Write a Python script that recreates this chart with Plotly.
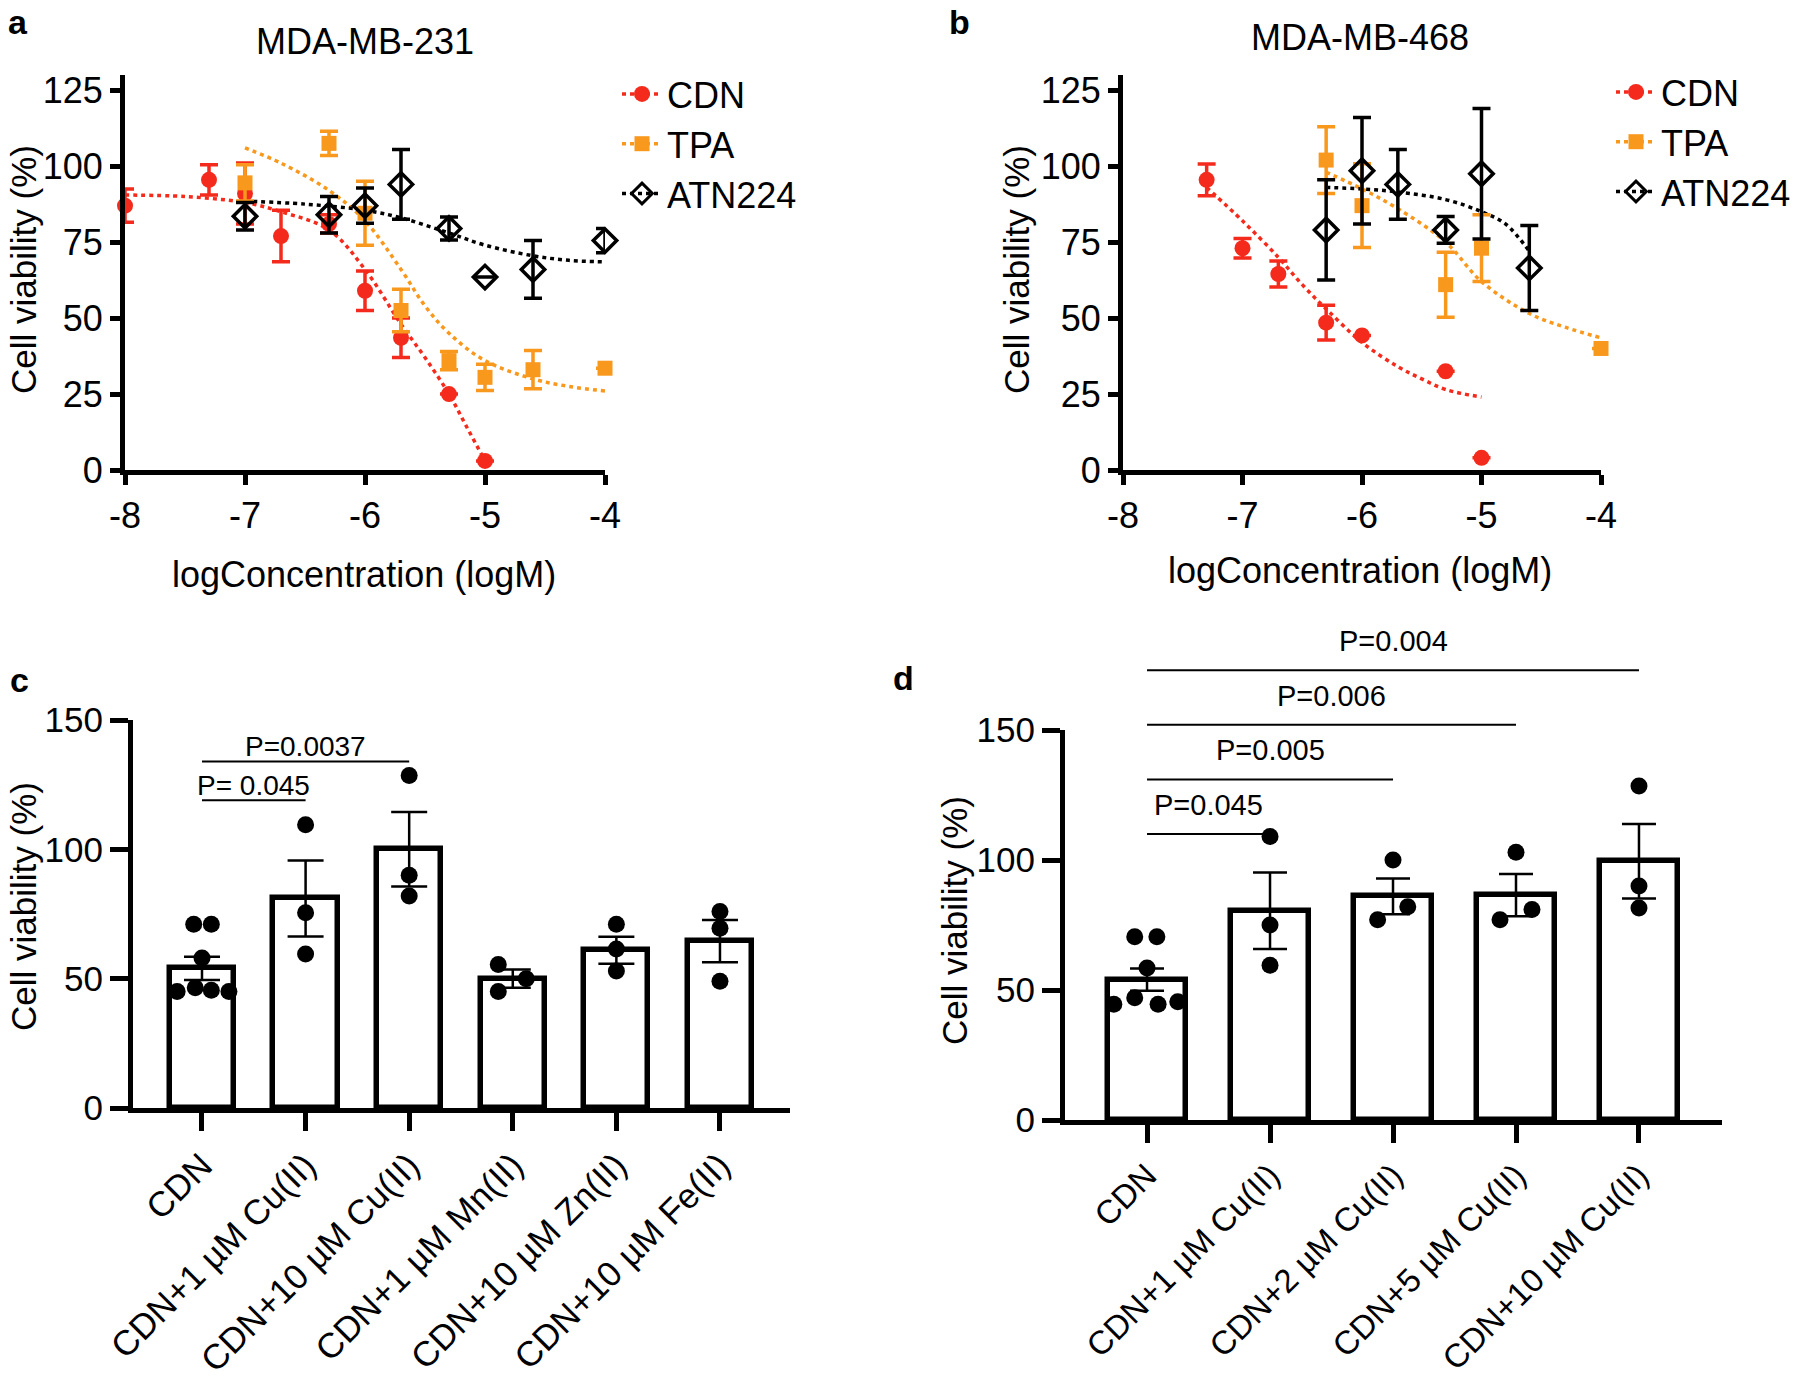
import plotly.graph_objects as go

FONT = "Liberation Sans, Arial, Helvetica, sans-serif"
RED = "#F42B1C"
ORANGE = "#F8981D"
BLACK = "#000000"

# ---------------- Panel a : MDA-MB-231 ----------------
a_cdn_x = [-8, -7.3, -7, -6.7, -6.3, -6, -5.7, -5.3, -5]
a_cdn_y = [87, 95.5, 91, 77, 81, 59, 43.5, 25, 3]
a_cdn_e = [5.5, 5, 10, 8.5, 3, 6.5, 6.5, 0, 0]
a_tpa_x = [-7, -6.3, -6, -5.7, -5.3, -5, -4.6, -4]
a_tpa_y = [94.5, 107.5, 84.5, 52.5, 36, 30.5, 33, 33.5]
a_tpa_e = [6, 4, 10.5, 7, 3, 4.3, 6.3, 0]
a_atn_x = [-7, -6.3, -6, -5.7, -5.3, -5, -4.6, -4]
a_atn_y = [83.5, 84, 87, 94, 79.5, 63.5, 66, 75.5]
a_atn_e = [4.5, 6, 5.8, 11.5, 3.8, 0, 9.5, 4]
# fitted curves
a_cdn_fit_x = [-8, -7.5, -7, -6.7, -6.3, -6, -5.7, -5.5, -5.3, -5.15, -5]
a_cdn_fit_y = [90.5, 90, 88, 85, 79, 66, 48, 37, 25, 14, 3]
a_tpa_fit_x = [-7, -6.7, -6.3, -6, -5.7, -5.5, -5.3, -5, -4.6, -4.3, -4]
a_tpa_fit_y = [106, 101, 92, 82, 66, 54, 45, 36, 30, 27.5, 26]
a_atn_fit_x = [-7, -6.5, -6, -5.7, -5.3, -5, -4.6, -4.3, -4]
a_atn_fit_y = [88.5, 87.5, 85.5, 83, 78, 74, 70.5, 69, 68.5]

# ---------------- Panel b : MDA-MB-468 ----------------
b_cdn_x = [-7.3, -7, -6.7, -6.3, -6, -5.3, -5]
b_cdn_y = [95.5, 73, 64.5, 48.5, 44.3, 32.5, 4]
b_cdn_e = [5.2, 3.2, 4.3, 5.7, 0, 0, 0]
b_tpa_x = [-6.3, -6, -5.3, -5, -4]
b_tpa_y = [102, 87, 61, 73, 40]
b_tpa_e = [11, 13.8, 10.7, 11, 0]
b_atn_x = [-6.3, -6, -5.7, -5.3, -5, -4.6]
b_atn_y = [79, 98.5, 94, 79, 97.5, 66.5]
b_atn_e = [16.5, 17.5, 11.5, 4.4, 21.5, 14]
b_cdn_fit_x = [-7.3, -7, -6.7, -6.5, -6.3, -6, -5.7, -5.5, -5.3, -5]
b_cdn_fit_y = [93, 82, 70, 61, 53, 42, 34, 30, 26.5, 24]
b_tpa_fit_x = [-6.3, -6, -5.7, -5.3, -5, -4.6, -4.3, -4]
b_tpa_fit_y = [98, 92.5, 86, 75, 62, 51.5, 47, 43.5]
b_atn_fit_x = [-6.3, -6, -5.7, -5.3, -5, -4.8, -4.6]
b_atn_fit_y = [93, 92.5, 91.5, 89, 85, 81, 72]

# ---------------- Panel c ----------------
c_labels = ["CDN", "CDN+1 µM Cu(II)", "CDN+10 µM Cu(II)", "CDN+1 µM Mn(II)",
            "CDN+10 µM Zn(II)", "CDN+10 µM Fe(II)"]
c_means = [54, 81, 100, 50, 61, 64.5]
c_sem = [4.5, 14.7, 14.4, 3.5, 5.2, 8.2]
c_points = [
    [71, 71, 58, 45, 46.5, 45.5, 45],
    [109.5, 75.5, 59.5],
    [128.5, 90, 82],
    [55.5, 45, 50],
    [71, 61.5, 53],
    [76, 69.5, 49],
]
c_jitter = [
    [-0.08, 0.09, 0, -0.24, -0.065, 0.09, 0.26],
    [0, 0, 0],
    [0, 0, 0],
    [-0.14, -0.14, 0.13],
    [0, 0, 0],
    [0, 0, 0],
]
c_sig_pairs = [(0, 1), (0, 2)]
c_sig_y = [119, 134]
c_sig_text = ["P= 0.045", "P=0.0037"]

# ---------------- Panel d ----------------
d_labels = ["CDN", "CDN+1 µM Cu(II)", "CDN+2 µM Cu(II)", "CDN+5 µM Cu(II)",
            "CDN+10 µM Cu(II)"]
d_means = [54, 80.5, 86, 86.5, 99.5]
d_sem = [4.3, 14.7, 6.9, 8.1, 14.3]
d_points = [
    [70.5, 70.5, 58.5, 44.5, 47, 44.5, 45.5],
    [109, 75, 59.5],
    [100, 77, 82],
    [103, 77, 81],
    [128.5, 90, 81.5],
]
d_jitter = [
    [-0.1, 0.08, 0, -0.27, -0.1, 0.09, 0.25],
    [0, 0, 0],
    [0, -0.125, 0.12],
    [0, -0.13, 0.13],
    [0, 0, 0],
]
d_sig_pairs = [(0, 1), (0, 2), (0, 3), (0, 4)]
d_sig_y = [110, 131, 152, 173]
d_sig_text = ["P=0.045", "P=0.005", "P=0.006", "P=0.004"]

fig = go.Figure()


def dose_panel(xa, ya, legend, series):
    for (x, y, e, fx, fy, color, sym, size, name) in series:
        fig.add_trace(go.Scatter(
            x=fx, y=fy, mode="lines", xaxis=xa, yaxis=ya, showlegend=False,
            line=dict(color=color, width=3.5, dash="4px,4px", shape="spline"),
            hoverinfo="skip"))
    for (x, y, e, fx, fy, color, sym, size, name) in series:
        mk = dict(color=color, size=size, symbol=sym)
        if sym == "diamond-open":
            mk = dict(color=BLACK, size=size, symbol=sym, line=dict(width=3.5, color=BLACK))
        fig.add_trace(go.Scatter(
            x=x, y=y, mode="markers", xaxis=xa, yaxis=ya, showlegend=False,
            marker=mk, cliponaxis=False,
            error_y=dict(type="data", array=e, color=color, thickness=3.5, width=9)))
    for (x, y, e, fx, fy, color, sym, size, name) in series:
        mk = dict(color=color, size=min(size, 16), symbol=sym)
        if sym == "diamond-open":
            mk = dict(color=BLACK, size=16, symbol=sym, line=dict(width=3, color=BLACK))
        fig.add_trace(go.Scatter(
            x=[None], y=[None], mode="lines+markers", name=name, legend=legend,
            xaxis=xa, yaxis=ya, marker=mk,
            line=dict(color=color, width=3.5, dash="4px,4px")))


dose_panel("x", "y", "legend", [
    (a_cdn_x, a_cdn_y, a_cdn_e, a_cdn_fit_x, a_cdn_fit_y, RED, "circle", 16, "CDN"),
    (a_tpa_x, a_tpa_y, a_tpa_e, a_tpa_fit_x, a_tpa_fit_y, ORANGE, "square", 15, "TPA"),
    (a_atn_x, a_atn_y, a_atn_e, a_atn_fit_x, a_atn_fit_y, BLACK, "diamond-open", 18, "ATN224"),
])
dose_panel("x2", "y2", "legend2", [
    (b_cdn_x, b_cdn_y, b_cdn_e, b_cdn_fit_x, b_cdn_fit_y, RED, "circle", 16, "CDN"),
    (b_tpa_x, b_tpa_y, b_tpa_e, b_tpa_fit_x, b_tpa_fit_y, ORANGE, "square", 15, "TPA"),
    (b_atn_x, b_atn_y, b_atn_e, b_atn_fit_x, b_atn_fit_y, BLACK, "diamond-open", 18, "ATN224"),
])

annotations = []


def bar_panel(xa, ya, sig_ya, labels, means, sem, points, jitter, pairs, sig_y, sig_text,
              bar_w, cap, pfont, pshift):
    idx = list(range(len(labels)))
    fig.add_trace(go.Bar(
        x=idx, y=means, width=bar_w, xaxis=xa, yaxis=ya, showlegend=False,
        marker=dict(color="white", line=dict(color=BLACK, width=5.5)),
        error_y=dict(type="data", array=sem, color=BLACK, thickness=2.5, width=cap)))
    px, py = [], []
    for i, (pts, jit) in enumerate(zip(points, jitter)):
        for v, j in zip(pts, jit):
            px.append(i + j)
            py.append(v)
    fig.add_trace(go.Scatter(
        x=px, y=py, mode="markers", xaxis=xa, yaxis=ya, showlegend=False,
        cliponaxis=False, marker=dict(color=BLACK, size=17)))
    for (i, j), yv, t in zip(pairs, sig_y, sig_text):
        fig.add_trace(go.Scatter(
            x=[i, j], y=[yv, yv], mode="lines", xaxis=xa, yaxis=sig_ya,
            showlegend=False, line=dict(color=BLACK, width=2), hoverinfo="skip"))
        annotations.append(dict(
            x=(i + j) / 2, y=yv, xref=xa, yref=sig_ya, text=t, showarrow=False,
            yanchor="middle", yshift=pshift,
            font=dict(size=pfont, color=BLACK, family=FONT)))


bar_panel("x3", "y3", "y3", c_labels, c_means, c_sem, c_points, c_jitter,
          c_sig_pairs, c_sig_y, c_sig_text, 0.62, 18, 28, 15)
bar_panel("x4", "y4", "y5", d_labels, d_means, d_sem, d_points, d_jitter,
          d_sig_pairs, d_sig_y, d_sig_text, 0.63, 17, 29, 29)


def ax_style(**kw):
    base = dict(showline=True, linewidth=5, linecolor=BLACK, ticks="outside",
                tickwidth=5, tickcolor=BLACK, showgrid=False, zeroline=False,
                automargin=False,
                tickfont=dict(size=36, color=BLACK, family=FONT), fixedrange=True)
    base.update(kw)
    return base


W, H = 1800, 1389
# panel d: main axis 0..150 spans 1120 -> 730 px; helper axis for significance bars
d_bottom, d_top = 1120, 730
d_ext_top = d_bottom - (d_bottom - d_top) * 200 / 150

layout = dict(
    width=W, height=H, margin=dict(l=0, r=0, t=0, b=0, autoexpand=False),
    paper_bgcolor="white", plot_bgcolor="rgba(0,0,0,0)",
    font=dict(family=FONT, color=BLACK),
    xaxis=ax_style(domain=[125 / W, 605 / W], range=[-8, -4], tickvals=[-8, -7, -6, -5, -4],
                   ticktext=["-8", "-7", "-6", "-5", "-4"], ticklen=10, anchor="y"),
    yaxis=ax_style(domain=[1 - 470 / H, 1 - 75 / H], range=[0, 130],
                   tickvals=[0, 25, 50, 75, 100, 125], ticklen=10, anchor="x"),
    xaxis2=ax_style(domain=[1123 / W, 1601 / W], range=[-8, -4], tickvals=[-8, -7, -6, -5, -4],
                    ticktext=["-8", "-7", "-6", "-5", "-4"], ticklen=10, anchor="y2"),
    yaxis2=ax_style(domain=[1 - 470 / H, 1 - 75 / H], range=[0, 130],
                    tickvals=[0, 25, 50, 75, 100, 125], ticklen=10, anchor="x2"),
    xaxis3=ax_style(domain=[133 / W, 790 / W], range=[-0.666, 5.676],
                    tickvals=list(range(len(c_labels))), ticktext=c_labels,
                    tickangle=-45, ticklen=18, anchor="y3",
                    tickfont=dict(size=35, color=BLACK, family=FONT)),
    yaxis3=ax_style(domain=[1 - 1108 / H, 1 - 720 / H], range=[0, 150],
                    tickvals=[0, 50, 100, 150], ticklen=18, anchor="x3",
                    tickfont=dict(size=35, color=BLACK, family=FONT)),
    xaxis4=ax_style(domain=[1065 / W, 1722 / W], range=[-0.667, 4.675],
                    tickvals=list(range(len(d_labels))), ticktext=d_labels,
                    tickangle=-45, ticklen=18, anchor="y4",
                    tickfont=dict(size=33, color=BLACK, family=FONT)),
    yaxis4=ax_style(domain=[1 - d_bottom / H, 1 - d_top / H], range=[0, 150],
                    tickvals=[0, 50, 100, 150], ticklen=18, anchor="x4",
                    tickfont=dict(size=35, color=BLACK, family=FONT)),
    yaxis5=dict(domain=[1 - d_bottom / H, 1 - d_ext_top / H], range=[0, 200],
                anchor="x4", visible=False, fixedrange=True, showgrid=False,
                zeroline=False, automargin=False),
    legend=dict(x=617 / W, y=1 - 64 / H, xanchor="left", yanchor="top",
                font=dict(size=36, color=BLACK, family=FONT), bgcolor="rgba(0,0,0,0)",
                itemwidth=40, tracegroupgap=0),
    legend2=dict(x=1611 / W, y=1 - 62 / H, xanchor="left", yanchor="top",
                 font=dict(size=36, color=BLACK, family=FONT), bgcolor="rgba(0,0,0,0)",
                 itemwidth=40, tracegroupgap=0),
    bargap=0,
)


def text_ann(txt, x, y, size, bold=False, angle=0):
    return dict(text=("<b>%s</b>" % txt) if bold else txt, x=x / W, y=1 - y / H,
                xref="paper", yref="paper", showarrow=False, xanchor="center",
                yanchor="middle", textangle=angle,
                font=dict(size=size, color=BLACK, family=FONT))


annotations += [
    text_ann("a", 18, 22, 34, bold=True),
    text_ann("b", 959, 22, 34, bold=True),
    text_ann("c", 19, 680, 34, bold=True),
    text_ann("d", 903, 678, 34, bold=True),
    text_ann("MDA-MB-231", 365, 42, 36),
    text_ann("MDA-MB-468", 1360, 38, 36),
    text_ann("logConcentration (logM)", 364, 574, 36),
    text_ann("logConcentration (logM)", 1360, 571, 36),
    text_ann("Cell viability (%)", 23, 270, 35, angle=-90),
    text_ann("Cell viability (%)", 1016, 270, 35, angle=-90),
    text_ann("Cell viability (%)", 23, 907, 35, angle=-90),
    text_ann("Cell viability (%)", 954, 921, 35, angle=-90),
]
layout["annotations"] = annotations
fig.update_layout(**layout)
fig.write_html("out.html", config={"displayModeBar": False},
               post_script="document.body.style.margin='0';document.body.style.padding='0';")
